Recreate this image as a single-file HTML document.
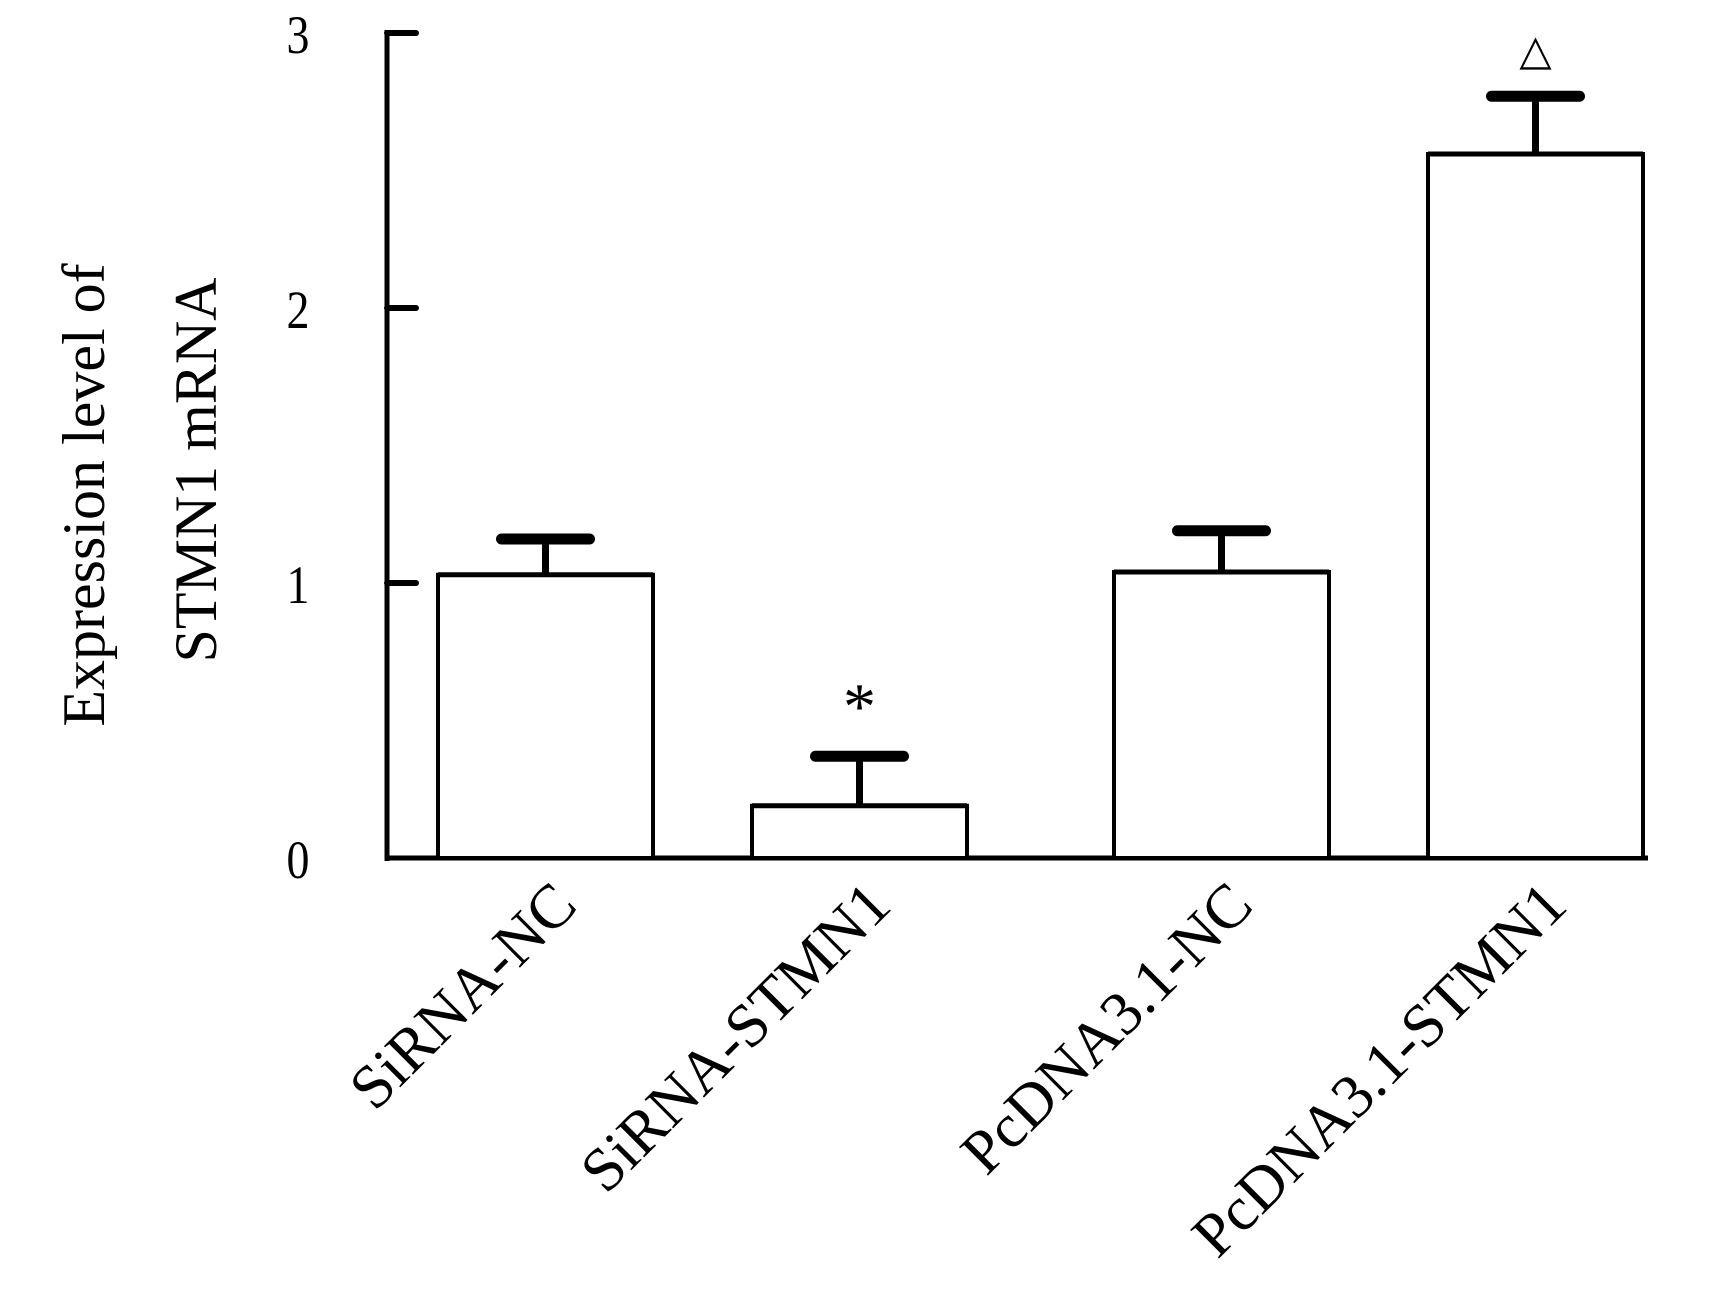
<!DOCTYPE html>
<html><head><meta charset="utf-8"><style>
html,body{margin:0;padding:0;background:#fff;}
svg{display:block;}
text{font-family:"Liberation Serif","DejaVu Serif",serif;fill:#000;}
</style></head>
<body>
<svg id="chart" width="1724" height="1298" viewBox="0 0 1724 1298" xmlns="http://www.w3.org/2000/svg">
<g id="plot"></g>
<text transform="translate(104,495) rotate(-90)" text-anchor="middle" font-size="60">Expression level of</text>
<text transform="translate(216,470) rotate(-90)" text-anchor="middle" font-size="60">STMN1 mRNA</text>
</svg>
<script>
const categories = ["SiRNA-NC","SiRNA-STMN1","PcDNA3.1-NC","PcDNA3.1-STMN1"];
const values = [1.03, 0.19, 1.04, 2.56];
const errors = [0.13, 0.18, 0.15, 0.21];
const markers = ["", "*", "", "\u25B3"];
const yTicks = [0, 1, 2, 3];

const NS = "http://www.w3.org/2000/svg";
const g = document.getElementById("plot");
const x0 = 387, y0 = 858, unit = 275;
const barStart = 438, barStep = 314, barW = 215;
function y(v){ return y0 - v*unit; }
function bx(i){ return barStart + i*barStep + (i>=2 ? 48 : 0); }
function el(tag, attrs){ const e=document.createElementNS(NS,tag); for(const k in attrs) e.setAttribute(k,attrs[k]); g.appendChild(e); return e; }

let ax = el("line",{x1:x0,y1:y(3)-3,x2:x0,y2:y0+3,stroke:"#000","stroke-width":5});


let xa = el("line",{x1:x0-2,y1:y0,x2:1648,y2:y0,stroke:"#000","stroke-width":5});



yTicks.forEach(t=>{
  if(t>0){
    const tk = el("line",{x1:x0,y1:y(t),x2:x0+29,y2:y(t),stroke:"#000","stroke-width":6,"stroke-linecap":"round"});
    
    
  }
  const lb = el("text",{transform:`translate(298,${y(t)+20}) scale(0.85,1)`,"text-anchor":"middle","font-size":54});
  lb.textContent = t;
  
  
});

values.forEach((v,i)=>{
  const x = bx(i), cx = x + barW/2;
  const top = y(v), cap = y(v+errors[i]);
  const eb = el("line",{x1:cx,y1:top,x2:cx,y2:cap,stroke:"#000","stroke-width":7});
  
  
  const ec = el("line",{x1:cx-44,y1:cap,x2:cx+44,y2:cap,stroke:"#000","stroke-width":11,"stroke-linecap":"round"});
  
  
  const r = el("rect",{x:x,y:top,width:barW,height:y0-top,fill:"#fff",stroke:"#000","stroke-width":4});
  
  
  el("line",{x1:x,y1:top,x2:x+barW,y2:top,stroke:"#000","stroke-width":5});
  if(markers[i]){
    const isStar = markers[i]==="*";
    const m = el("text",{x:cx,y:cap-(isStar?28:32),"text-anchor":"middle","font-size":isStar?66:42});
    m.textContent = markers[i];
    
    
  }
  const lab = el("text",{transform:`translate(${cx+34},${y0+50}) rotate(-45)`,"text-anchor":"end","font-size":62});
  lab.textContent = categories[i];
  
  
});
</script>
</body></html>
